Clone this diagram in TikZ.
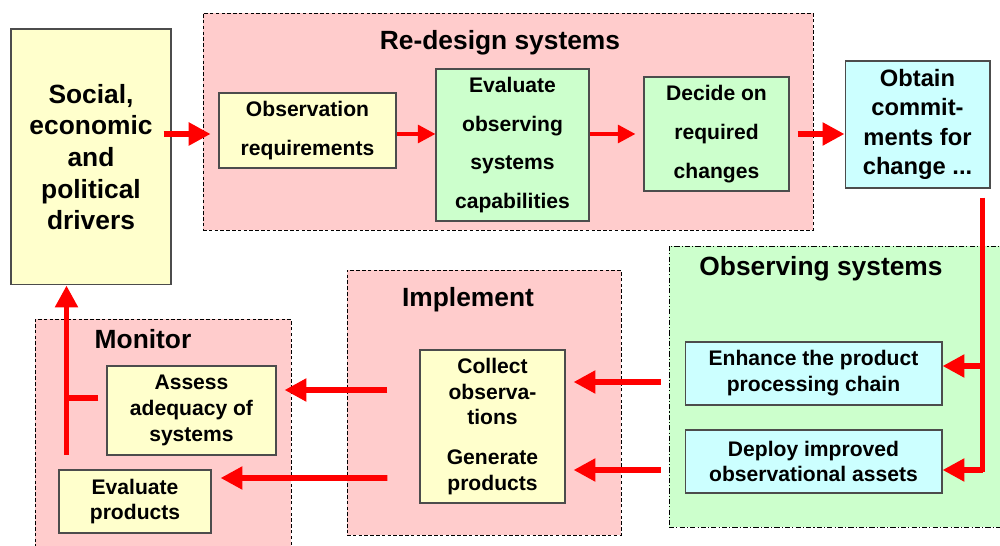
\documentclass[tikz,border=0pt]{standalone}
\usepackage{fontspec}
\setmainfont{Liberation Sans}
\usetikzlibrary{arrows.meta}
\definecolor{pinkbg}{HTML}{FFCCCC}
\definecolor{yellowbg}{HTML}{FFFFCC}
\definecolor{greenbg}{HTML}{CCFFCC}
\definecolor{cyanbg}{HTML}{CCFFFF}
\begin{document}
\begin{tikzpicture}[
                x=0.02cm, y=-0.02cm,
                box/.style={draw=black!70, line width=0.6pt, inner sep=0pt, align=center,
                    font=\bfseries\fontsize{12}{14.7}\selectfont},
                tallbox/.style={box, font=\bfseries\fontsize{12}{22}\selectfont},
                group/.style={draw=black, line width=0.5pt, dash pattern=on 2pt off 1.3pt,
                    fill=pinkbg, inner sep=0pt},
                title/.style={font=\bfseries\fontsize{15}{18}\selectfont},
                flow/.style={draw=red, line width=3.2pt, -{Triangle[length=12.5pt, width=12.5pt]}},
                smallflow/.style={draw=red, line width=2.3pt, -{Triangle[length=10pt, width=10pt]}},
                trunk/.style={draw=red, line width=3pt} ]

            \clip (0,0) rectangle (1000,546);

            \node[group, minimum width=12.2cm, minimum height=4.34cm] (redesign) at (508,121.5) {};
            \node[title] (redesigntitle) at (500,43) {Re-design systems};
            \node[group, fill=greenbg, dash pattern=on 3pt off 1.2pt on 0.6pt off 1.2pt,
                minimum width=6.68cm, minimum height=5.62cm] (observing) at (836,386.5) {};
            \node[title] (observingtitle) at (821,269) {Observing systems};
            \node[group, minimum width=5.48cm, minimum height=5.3cm] (implement) at (484,402.5) {};
            \node[title] (implementtitle) at (468,300) {Implement};
            \node[group, minimum width=5.12cm, minimum height=4.62cm] (monitor) at (163,434.5) {};
            \node[title] (monitortitle) at (143,339) {Monitor};

            \node[box, fill=yellowbg, minimum width=3.2cm, minimum height=5.12cm,
                font=\bfseries\fontsize{15}{18}\selectfont] (social) at (91,157)
                {Social,\\economic\\and\\political\\drivers};
            \node[tallbox, fill=yellowbg, minimum width=3.54cm, minimum height=1.5cm] (obsreq)
                at (307.5,130.5) {Observation\\requirements};
            \node[tallbox, fill=greenbg, minimum width=3.06cm, minimum height=3.04cm] (evalcap)
                at (512.5,145) {Evaluate\\observing\\systems\\capabilities};
            \node[tallbox, fill=greenbg, minimum width=2.9cm, minimum height=2.28cm] (decide)
                at (716.5,134) {Decide on\\required\\changes};
            \node[box, fill=cyanbg, minimum width=2.9cm, minimum height=2.54cm,
                font=\bfseries\fontsize{13.5}{16.6}\selectfont] (obtain) at (917.5,124.5)
                {Obtain\\commit-\\ments for\\change ...};
            \node[box, fill=cyanbg, minimum width=5.14cm, minimum height=1.26cm] (enhance)
                at (813.5,373.5) {Enhance the product\\processing chain};
            \node[box, fill=cyanbg, minimum width=5.14cm, minimum height=1.26cm] (deploy)
                at (813.5,461.5) {Deploy improved\\observational assets};
            \node[box, fill=yellowbg, minimum width=2.9cm, minimum height=3.06cm] (collect)
                at (492.5,426.5) {Collect\\observa-\\tions\\[8pt]Generate\\products};
            \node[box, fill=yellowbg, minimum width=3.38cm, minimum height=1.78cm] (assess)
                at (191.5,410.5) {Assess\\adequacy of\\systems};
            \node[box, fill=yellowbg, minimum width=3.04cm, minimum height=1.26cm] (evalprod)
                at (135,501.5) {Evaluate\\products};

            \draw[flow] ([xshift=-0.16cm]social.east |- decide.west) -- ([xshift=0.16cm]redesign.west |- decide.west);
            \draw[smallflow] (obsreq.east |- decide.west) -- (evalcap.west |- decide.west);
            \draw[smallflow] (evalcap.east |- decide.west) -- ([xshift=-0.16cm]decide.west);
            \draw[flow] ([xshift=0.16cm]decide.east) -- (obtain.west |- decide.west);

            \coordinate (fork) at ([shift={(-8,9)}]obtain.south east);
            \draw[trunk] (fork) -- ([yshift=-0.22cm]fork |- deploy.east);
            \draw[flow] ([yshift=0.15cm]fork |- enhance.east) -- ([yshift=0.15cm]enhance.east);
            \draw[flow] ([yshift=-0.17cm]fork |- deploy.east) -- ([yshift=-0.17cm]deploy.east);

            \draw[flow] ([shift={(-8,-44.5)}]observing.west |- collect.east) -- ([shift={(8,-44.5)}]collect.east);
            \draw[flow] ([shift={(-8,43.5)}]observing.west |- collect.east) -- ([shift={(8,43.5)}]collect.east);

            \draw[flow] ([shift={(-32,-36.5)}]collect.west) -- ([shift={(8,-20.5)}]assess.east);
            \draw[flow] ([shift={(-32,51.5)}]collect.west) -- ([shift={(9,-23.5)}]evalprod.east);

            \coordinate (rise) at ([shift={(-40,44.5)}]assess.west);
            \draw[flow] (rise) -- (rise |- social.south);
            \draw[trunk] ([shift={(-8,-12.5)}]assess.west) -- ([shift={(-40,-12.5)}]assess.west);

        \end{tikzpicture}
\end{document}
